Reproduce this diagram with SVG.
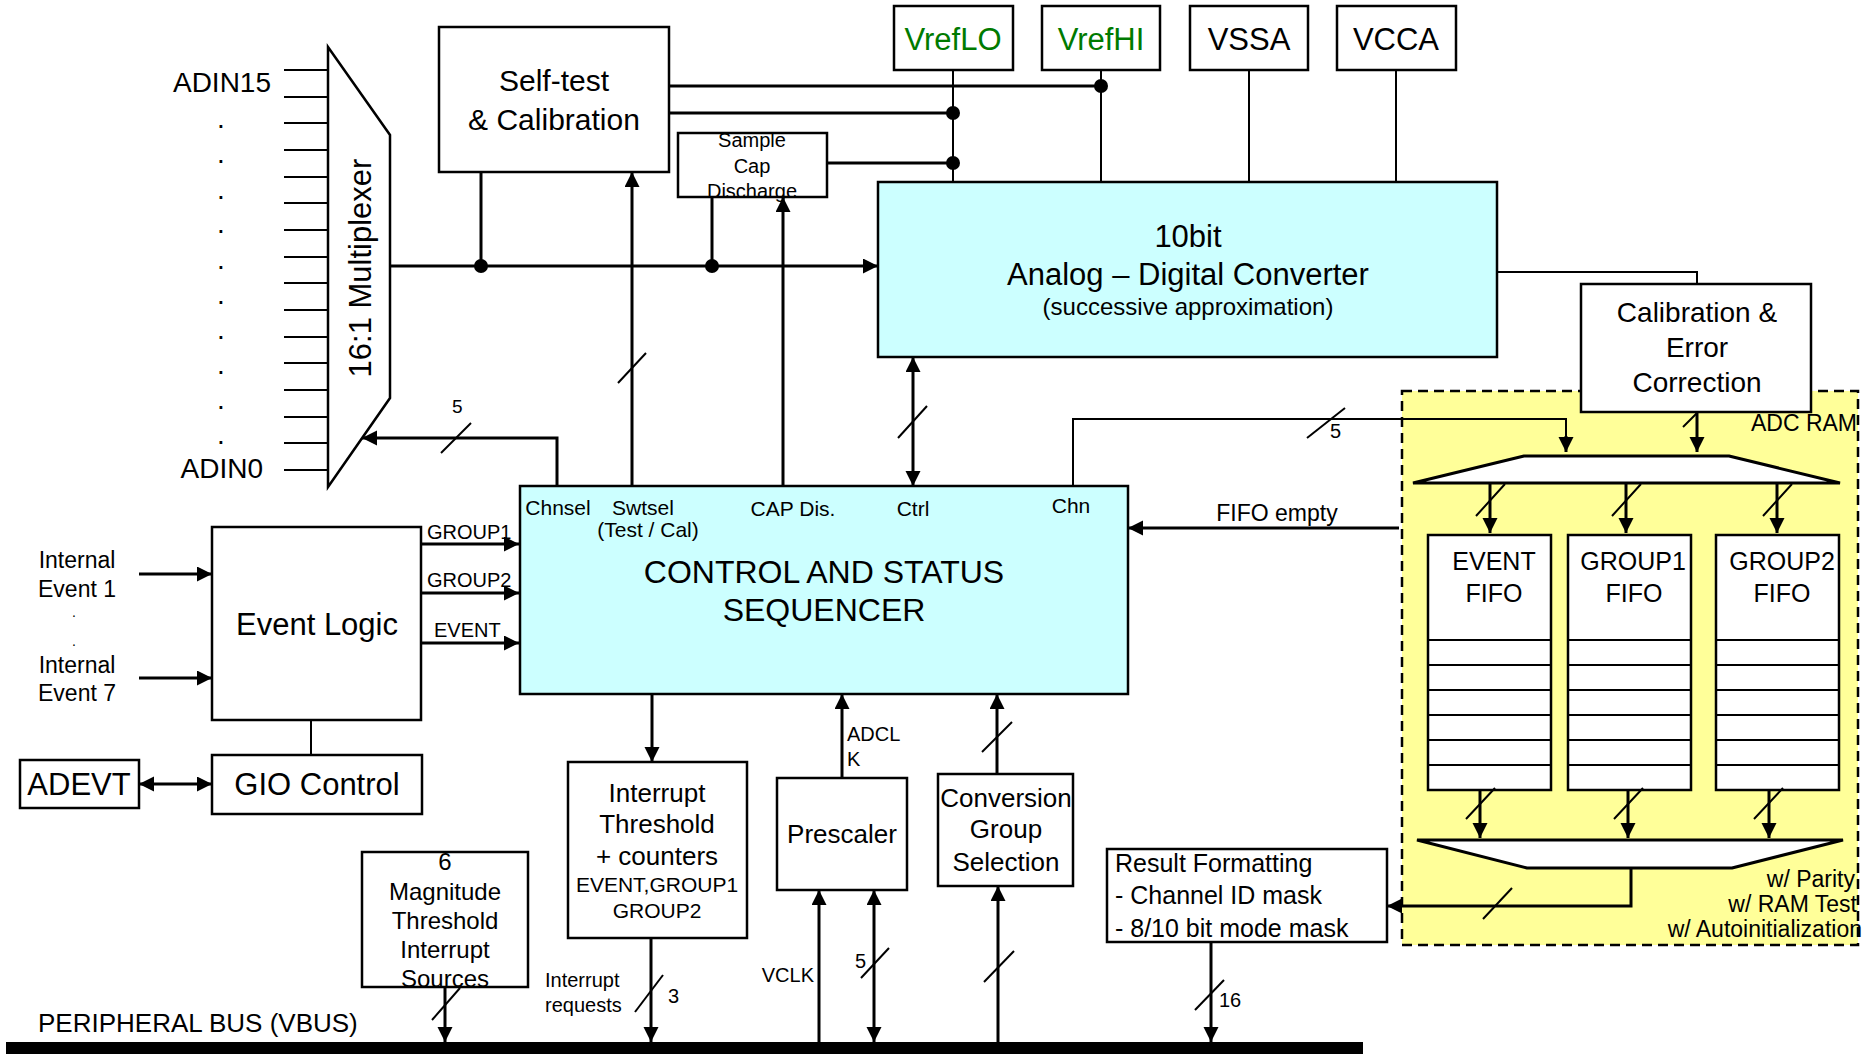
<svg xmlns="http://www.w3.org/2000/svg" width="1868" height="1054" viewBox="0 0 1868 1054">
<style>
text{font-family:"Liberation Sans",Arial,sans-serif;fill:#000}
.box{fill:#fff;stroke:#000;stroke-width:2.5}
.cy{fill:#CCFFFF;stroke:#000;stroke-width:2.5}
.c{fill:none;stroke:#000;stroke-width:3}
.t{fill:none;stroke:#000;stroke-width:2}
.s{fill:none;stroke:#000;stroke-width:2}
.m{text-anchor:middle}
.e{text-anchor:end}
.f32{font-size:32px}
.f31{font-size:31px}
.f30{font-size:30px}
.f28{font-size:28px}
.f26{font-size:26px}
.f25{font-size:25px}
.f24{font-size:24px}
.f23{font-size:23px}
.f21{font-size:21px}
.f20{font-size:20px}
.f19{font-size:19px}
.f14{font-size:14px}
</style>
<defs>
<marker id="a" markerUnits="userSpaceOnUse" markerWidth="16" markerHeight="16" refX="15" refY="7.5" orient="auto-start-reverse" viewBox="0 0 16 16">
<path d="M0,0 L15,7.5 L0,15 z" fill="#000"/>
</marker>
</defs>

<rect x="1402" y="391" width="456" height="554" fill="#FFFF99" stroke="#000" stroke-width="2.5" stroke-dasharray="10,6"/>

<g id="multiplexer">
<polygon points="328,47 390,135 390,398 328,487" class="box"/>
<text class="f31 m" transform="translate(371,268) rotate(-90)">16:1 Multiplexer</text>
<path class="s" d="M284,70H328M284,97H328M284,123H328M284,150H328M284,177H328M284,203H328M284,230H328M284,257H328M284,283H328M284,310H328M284,337H328M284,363H328M284,390H328M284,417H328M284,443H328M284,470H328"/>
<text class="f28 e" x="271" y="92">ADIN15</text>
<text class="f28 e" x="263" y="478">ADIN0</text>
<g class="f28 m">
<text x="221" y="128">.</text><text x="221" y="163">.</text><text x="221" y="199">.</text><text x="221" y="233">.</text><text x="221" y="269">.</text><text x="221" y="304">.</text><text x="221" y="339">.</text><text x="221" y="374">.</text><text x="221" y="409">.</text><text x="221" y="444">.</text>
</g>
</g>

<g id="selftest">
<rect x="439" y="27" width="230" height="145" class="box"/>
<text class="f30 m" x="554" y="91">Self-test</text>
<text class="f30 m" x="554" y="130">&amp; Calibration</text>
</g>

<g id="samplecap">
<rect x="678" y="133" width="149" height="64" class="box"/>
<text class="f20 m" x="752" y="147">Sample</text>
<text class="f20 m" x="752" y="173">Cap</text>
<text class="f20 m" x="752" y="198">Discharge</text>
</g>

<g id="vreflo"><rect x="894" y="6" width="119" height="64" class="box"/><text class="f31 m" x="953" y="50" style="fill:#007A00">VrefLO</text></g>
<g id="vrefhi"><rect x="1042" y="6" width="118" height="64" class="box"/><text class="f31 m" x="1101" y="50" style="fill:#007A00">VrefHI</text></g>
<g id="vssa"><rect x="1190" y="6" width="118" height="64" class="box"/><text class="f31 m" x="1249" y="50">VSSA</text></g>
<g id="vcca"><rect x="1337" y="6" width="119" height="64" class="box"/><text class="f31 m" x="1396" y="50">VCCA</text></g>

<g id="adc">
<rect x="878" y="182" width="619" height="175" class="cy"/>
<text class="f31 m" x="1188" y="247">10bit</text>
<text class="f31 m" x="1188" y="285">Analog – Digital Converter</text>
<text class="f24 m" x="1188" y="315">(successive approximation)</text>
</g>

<g id="calibration">
<rect x="1581" y="284" width="230" height="128" class="box"/>
<text class="f28 m" x="1697" y="322">Calibration &amp;</text>
<text class="f28 m" x="1697" y="357">Error</text>
<text class="f28 m" x="1697" y="392">Correction</text>
</g>

<g id="adcram">
<text class="f23 e" x="1857" y="431">ADC RAM</text>
<polygon points="1524,456 1729,456 1840,483 1413,483" fill="#fff" stroke="#000" stroke-width="3" stroke-linejoin="bevel"/>
<polygon points="1417,840 1843,840 1732,868 1527,868" fill="#fff" stroke="#000" stroke-width="3" stroke-linejoin="bevel"/>
<text class="f23 e" x="1855" y="887">w/ Parity</text>
<text class="f23 e" x="1857" y="912">w/ RAM Test</text>
<text class="f23 e" x="1862" y="937">w/ Autoinitialization</text>
</g>

<g id="eventfifo">
<rect x="1428" y="535" width="123" height="255" class="box"/>
<path class="s" d="M1428,640H1551M1428,665H1551M1428,690H1551M1428,715H1551M1428,740H1551M1428,765H1551"/>
<text class="f25 m" x="1494" y="570">EVENT</text>
<text class="f25 m" x="1494" y="602">FIFO</text>
</g>
<g id="group1fifo">
<rect x="1568" y="535" width="123" height="255" class="box"/>
<path class="s" d="M1568,640H1691M1568,665H1691M1568,690H1691M1568,715H1691M1568,740H1691M1568,765H1691"/>
<text class="f25 m" x="1633" y="570">GROUP1</text>
<text class="f25 m" x="1634" y="602">FIFO</text>
</g>
<g id="group2fifo">
<rect x="1716" y="535" width="123" height="255" class="box"/>
<path class="s" d="M1716,640H1839M1716,665H1839M1716,690H1839M1716,715H1839M1716,740H1839M1716,765H1839"/>
<text class="f25 m" x="1782" y="570">GROUP2</text>
<text class="f25 m" x="1782" y="602">FIFO</text>
</g>

<g id="sequencer">
<rect x="520" y="486" width="608" height="208" class="cy"/>
<text class="f21 m" x="558" y="515">Chnsel</text>
<text class="f21 m" x="643" y="515">Swtsel</text>
<text class="f21 m" x="648" y="537">(Test / Cal)</text>
<text class="f21 m" x="793" y="516">CAP Dis.</text>
<text class="f21 m" x="913" y="516">Ctrl</text>
<text class="f21 m" x="1071" y="513">Chn</text>
<text class="f32 m" x="824" y="583">CONTROL AND STATUS</text>
<text class="f32 m" x="824" y="621">SEQUENCER</text>
</g>

<g id="internal-events">
<text class="f23 m" x="77" y="568">Internal</text>
<text class="f23 m" x="77" y="597">Event 1</text>
<text class="f14 m" x="74" y="617">.</text>
<text class="f14 m" x="74" y="646">.</text>
<text class="f23 m" x="77" y="673">Internal</text>
<text class="f23 m" x="77" y="701">Event 7</text>
</g>

<g id="eventlogic">
<rect x="212" y="527" width="209" height="193" class="box"/>
<text class="f31 m" x="317" y="635">Event Logic</text>
</g>

<g id="giocontrol">
<rect x="212" y="755" width="210" height="59" class="box"/>
<text class="f31 m" x="317" y="795">GIO Control</text>
</g>

<g id="adevt">
<rect x="20" y="760" width="119" height="48" class="box"/>
<text class="f31 m" x="79" y="795">ADEVT</text>
</g>

<g id="interrupt">
<rect x="568" y="762" width="179" height="176" class="box"/>
<text class="f26 m" x="657" y="802">Interrupt</text>
<text class="f26 m" x="657" y="833">Threshold</text>
<text class="f26 m" x="657" y="865">+ counters</text>
<text class="f21 m" x="657" y="892">EVENT,GROUP1</text>
<text class="f21 m" x="657" y="918">GROUP2</text>
</g>

<g id="magnitude">
<rect x="362" y="852" width="166" height="135" class="box"/>
<text class="f24 m" x="445" y="870">6</text>
<text class="f24 m" x="445" y="900">Magnitude</text>
<text class="f24 m" x="445" y="929">Threshold</text>
<text class="f24 m" x="445" y="958">Interrupt</text>
<text class="f24 m" x="445" y="987">Sources</text>
</g>

<g id="prescaler">
<rect x="777" y="778" width="130" height="112" class="box"/>
<text class="f26 m" x="842" y="843">Prescaler</text>
</g>

<g id="conversion">
<rect x="938" y="774" width="135" height="112" class="box"/>
<text class="f26 m" x="1006" y="807">Conversion</text>
<text class="f26 m" x="1006" y="838">Group</text>
<text class="f26 m" x="1006" y="871">Selection</text>
</g>

<g id="resultformatting">
<rect x="1107" y="849" width="280" height="93" class="box"/>
<text class="f25" x="1115" y="872">Result Formatting</text>
<text class="f25" x="1115" y="904">- Channel ID mask</text>
<text class="f25" x="1115" y="937">- 8/10 bit mode mask</text>
</g>

<g id="bus">
<rect x="6" y="1042" width="1357" height="12" fill="#000"/>
<text class="f26" x="38" y="1032">PERIPHERAL BUS (VBUS)</text>
</g>

<g id="connectors">
<path class="c" d="M390,266H878" marker-end="url(#a)"/>
<path class="c" d="M481,172V266"/>
<path class="c" d="M712,197V266"/>
<path class="c" d="M669,86H1101"/>
<path class="c" d="M669,113H953"/>
<path class="c" d="M827,163H953"/>
<path class="t" d="M953,70V182M1101,70V182M1249,70V182M1396,70V182"/>
<circle cx="481" cy="266" r="7"/><circle cx="712" cy="266" r="7"/><circle cx="1101" cy="86" r="7"/><circle cx="953" cy="113" r="7"/><circle cx="953" cy="163" r="7"/>
<path class="t" d="M1497,272H1697V284"/>

<path class="c" d="M557,486V438H362" marker-end="url(#a)"/>
<path class="s" d="M441,453L471,423"/>
<text class="f19" x="452" y="413">5</text>
<path class="c" d="M632,486V172" marker-end="url(#a)"/>
<path class="s" d="M618,383L646,353"/>
<path class="c" d="M783,486V197" marker-end="url(#a)"/>
<path class="c" d="M913,357V486" marker-start="url(#a)" marker-end="url(#a)"/>
<path class="s" d="M898,438L927,406"/>
<path class="t" d="M1073,486V419H1566V437"/>
<path class="c" d="M1566,436V452" marker-end="url(#a)"/>
<path class="s" d="M1307,438L1345,408"/>
<text class="f20" x="1330" y="438">5</text>
<path class="c" d="M1399,528H1128" marker-end="url(#a)"/>
<text class="f23 m" x="1277" y="521">FIFO empty</text>
<path class="c" d="M1697,412V452" marker-end="url(#a)"/>
<path class="s" d="M1683,427L1697,413"/>

<path class="c" d="M1490,483V533" marker-end="url(#a)"/>
<path class="c" d="M1626,483V533" marker-end="url(#a)"/>
<path class="c" d="M1777,483V533" marker-end="url(#a)"/>
<path class="s" d="M1476,516L1505,484M1612,516L1641,484M1763,516L1792,484"/>
<path class="c" d="M1480,790V838" marker-end="url(#a)"/>
<path class="c" d="M1628,790V838" marker-end="url(#a)"/>
<path class="c" d="M1769,790V838" marker-end="url(#a)"/>
<path class="s" d="M1466,819L1495,788M1614,819L1643,788M1754,819L1783,788"/>
<path class="c" d="M1631,868V906H1387" marker-end="url(#a)"/>
<path class="s" d="M1483,919L1512,888"/>

<path class="c" d="M139,574H212" marker-end="url(#a)"/>
<path class="c" d="M139,678H212" marker-end="url(#a)"/>
<path class="c" d="M421,544H519" marker-end="url(#a)"/>
<path class="c" d="M421,593H519" marker-end="url(#a)"/>
<path class="c" d="M421,643H519" marker-end="url(#a)"/>
<text class="f20" x="427" y="539">GROUP1</text>
<text class="f20" x="427" y="587">GROUP2</text>
<text class="f20" x="434" y="637">EVENT</text>
<path class="t" d="M311,720V755"/>
<path class="c" d="M139,784H212" marker-start="url(#a)" marker-end="url(#a)"/>

<path class="c" d="M652,694V762" marker-end="url(#a)"/>
<path class="c" d="M651,938V1042" marker-end="url(#a)"/>
<path class="s" d="M635,1012L663,975"/>
<text class="f20" x="668" y="1003">3</text>
<text class="f20" x="545" y="987">Interrupt</text>
<text class="f20" x="545" y="1012">requests</text>
<path class="c" d="M445,987V1042" marker-end="url(#a)"/>
<path class="s" d="M432,1020L460,988"/>
<path class="c" d="M842,778V694" marker-end="url(#a)"/>
<text class="f20" x="847" y="741">ADCL</text>
<text class="f20" x="847" y="766">K</text>
<path class="c" d="M819,1042V890" marker-end="url(#a)"/>
<text class="f20 e" x="814" y="982">VCLK</text>
<path class="c" d="M874,890V1042" marker-start="url(#a)" marker-end="url(#a)"/>
<path class="s" d="M861,978L889,948"/>
<text class="f20" x="855" y="968">5</text>
<path class="c" d="M997,774V694" marker-end="url(#a)"/>
<path class="s" d="M982,752L1012,722"/>
<path class="c" d="M998,1042V886" marker-end="url(#a)"/>
<path class="s" d="M984,982L1014,951"/>
<path class="c" d="M1211,942V1042" marker-end="url(#a)"/>
<path class="s" d="M1195,1010L1224,980"/>
<text class="f20" x="1219" y="1007">16</text>
</g>
</svg>
